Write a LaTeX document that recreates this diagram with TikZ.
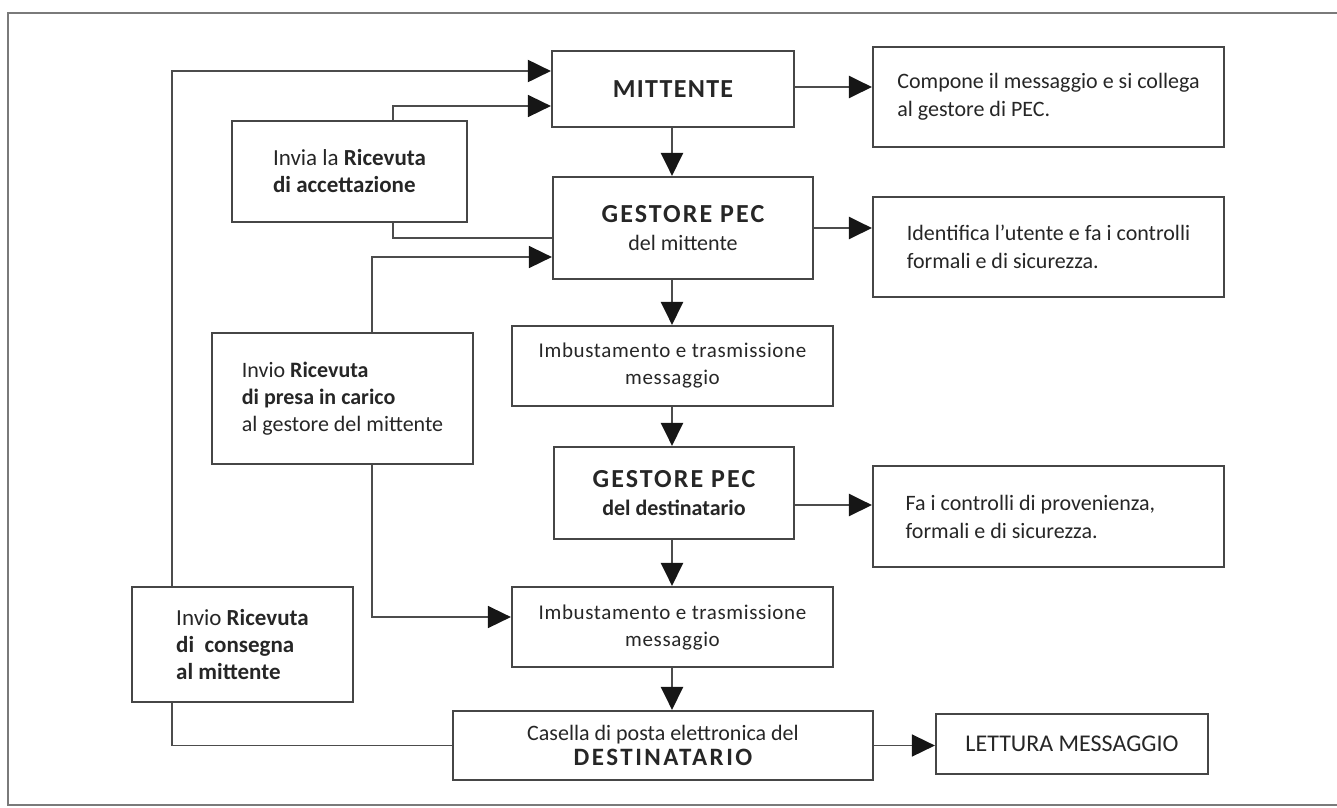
\documentclass[tikz,border=0pt]{standalone}
\usepackage{fontspec}
\setmainfont{Carlito}
\usepackage{tikz}
\usetikzlibrary{arrows.meta,positioning,calc}
\definecolor{boxgray}{HTML}{464646}
\definecolor{linegray}{HTML}{4C4C4C}
\definecolor{headblack}{HTML}{161616}
\definecolor{txtgray}{HTML}{262626}
\definecolor{framegray}{HTML}{7A7A7A}
\newcommand{\capsbold}[3]{{\fontsize{#1}{28}\selectfont\bfseries\addfontfeature{LetterSpace=#2}#3}}

\begin{document}
\begin{tikzpicture}[
    x=1pt, y=-1pt,
    box/.style={rectangle, draw=boxgray, line width=2.2pt, inner sep=0pt,
                align=center, text=txtgray, font=\fontsize{22}{28}\selectfont},
    sidebox/.style={box, align=left, font=\fontsize{23}{27}\selectfont},
    notebox/.style={box, align=left},
    arrow/.style={-{Triangle[length=23pt, width=22pt, color=headblack]},
                  line width=2.6pt, draw=linegray},
    thinarrow/.style={arrow, line width=1.6pt},
    link/.style={line width=1.6pt, draw=linegray},
]
\useasboundingbox (0,0) rectangle (1337,807);

% ── Outer frame ─────────────────────────────────────────────────────────
\draw[framegray, line width=1.5pt] (1337,13) -- (8,13) -- (8,805) -- (1337,805);

% ── Main column ─────────────────────────────────────────────────────────
\node[box, minimum width=242pt, minimum height=76pt] (mittente) at (673,89)
    {\capsbold{26}{5}{MITTENTE}};
\node[box, minimum width=260pt, minimum height=102pt] (gestmitt) at (683,228)
    {\capsbold{26}{8}{GESTORE PEC}\\{\fontsize{22}{28}\selectfont del mittente}};
\node[box, minimum width=321pt, minimum height=80pt, font=\fontsize{21}{27}\selectfont\addfontfeature{LetterSpace=3}] (imbusta1) at (672.5,366)
    {Imbustamento e trasmissione\\messaggio};
\node[box, minimum width=240pt, minimum height=92pt] (gestdest) at (674,493)
    {\capsbold{26}{8}{GESTORE PEC}\\{\fontsize{22}{28}\selectfont\bfseries del destinatario}};
\node[box, minimum width=321pt, minimum height=80pt, font=\fontsize{21}{27}\selectfont\addfontfeature{LetterSpace=3}] (imbusta2) at (672.5,627)
    {Imbustamento e trasmissione\\messaggio};
\node[box, minimum width=420pt, minimum height=69pt, font=\fontsize{22}{25}\selectfont] (casella) at (663,745.5)
    {Casella di posta elettronica del\\\capsbold{25}{10}{DESTINATARIO}};

% ── Notes on the right ──────────────────────────────────────────────────
\node[notebox, minimum width=351pt, minimum height=100pt] (compone) at (1048.5,97)
    {Compone il messaggio e si collega\\al gestore di PEC.};
\node[notebox, minimum width=351pt, minimum height=100pt] (identifica) at (1048.5,247)
    {Identifica l'utente e fa i controlli\\formali e di sicurezza.};
\node[notebox, minimum width=351pt, minimum height=101pt] (controlli) at (1048.5,516.5)
    {Fa i controlli di provenienza,\hspace*{36pt}\\formali e di sicurezza.};
\node[box, minimum width=272pt, minimum height=60pt, font=\fontsize{24}{26}\selectfont] (lettura) at (1072,744)
    {LETTURA MESSAGGIO};

% ── Receipts on the left ────────────────────────────────────────────────
\node[sidebox, minimum width=235pt, minimum height=101pt] (accetta) at (349.5,171.5)
    {Invia la \textbf{Ricevuta}\\\textbf{di accettazione}};
\node[sidebox, minimum width=261pt, minimum height=131pt, font=\fontsize{22}{27}\selectfont] (presa) at (342.5,398.5)
    {Invio \textbf{Ricevuta}\\\textbf{di presa in carico}\\al gestore del mittente};
\node[sidebox, minimum width=221pt, minimum height=115pt] (consegna) at (242.5,644.5)
    {Invio \textbf{Ricevuta}\\\textbf{di\ \ consegna}\\\textbf{al mittente}};

% ── Guide lines for the vertical runs ───────────────────────────────────
\coordinate (spine)  at (672,0);
\coordinate (outerx) at (172,0);
\coordinate (accx)   at (393,0);
\coordinate (presax) at (372,0);

% ── Main flow ───────────────────────────────────────────────────────────
\draw[arrow] (mittente.south -| spine) -- (gestmitt.north -| spine);
\draw[arrow] (gestmitt.south -| spine) -- (imbusta1.north -| spine);
\draw[arrow] (imbusta1.south -| spine) -- (gestdest.north -| spine);
\draw[arrow] (gestdest.south -| spine) -- (imbusta2.north -| spine);
\draw[arrow] (imbusta2.south -| spine) -- (casella.north -| spine);

% ── To the notes ────────────────────────────────────────────────────────
\draw[arrow] ([yshift=2pt]mittente.east) -- ([yshift=2pt]mittente.east -| compone.west);
\draw[arrow] (gestmitt.east) -- (gestmitt.east -| identifica.west);
\draw[arrow] ([yshift=-12pt]gestdest.east) -- ([yshift=-12pt]gestdest.east -| controlli.west);
\draw[thinarrow] (casella.east) -- (casella.east -| lettura.west);

% ── Receipts back to the sender ─────────────────────────────────────────
\draw[link] (accetta.south -| accx) |- ([yshift=-10pt]gestmitt.west);
\draw[thinarrow] (accetta.north -| accx) |- ([yshift=-17pt]mittente.west);
\draw[thinarrow] (presa.north -| presax) |- ([yshift=-29pt]gestmitt.west);
\draw[thinarrow] (presa.south -| presax) |- ([yshift=10pt]imbusta2.west);
\draw[link] (consegna.south -| outerx) |- (casella.west);
\draw[arrow, line width=2pt] (consegna.north -| outerx) |- ([yshift=18pt]mittente.west);

\end{tikzpicture}
\end{document}
